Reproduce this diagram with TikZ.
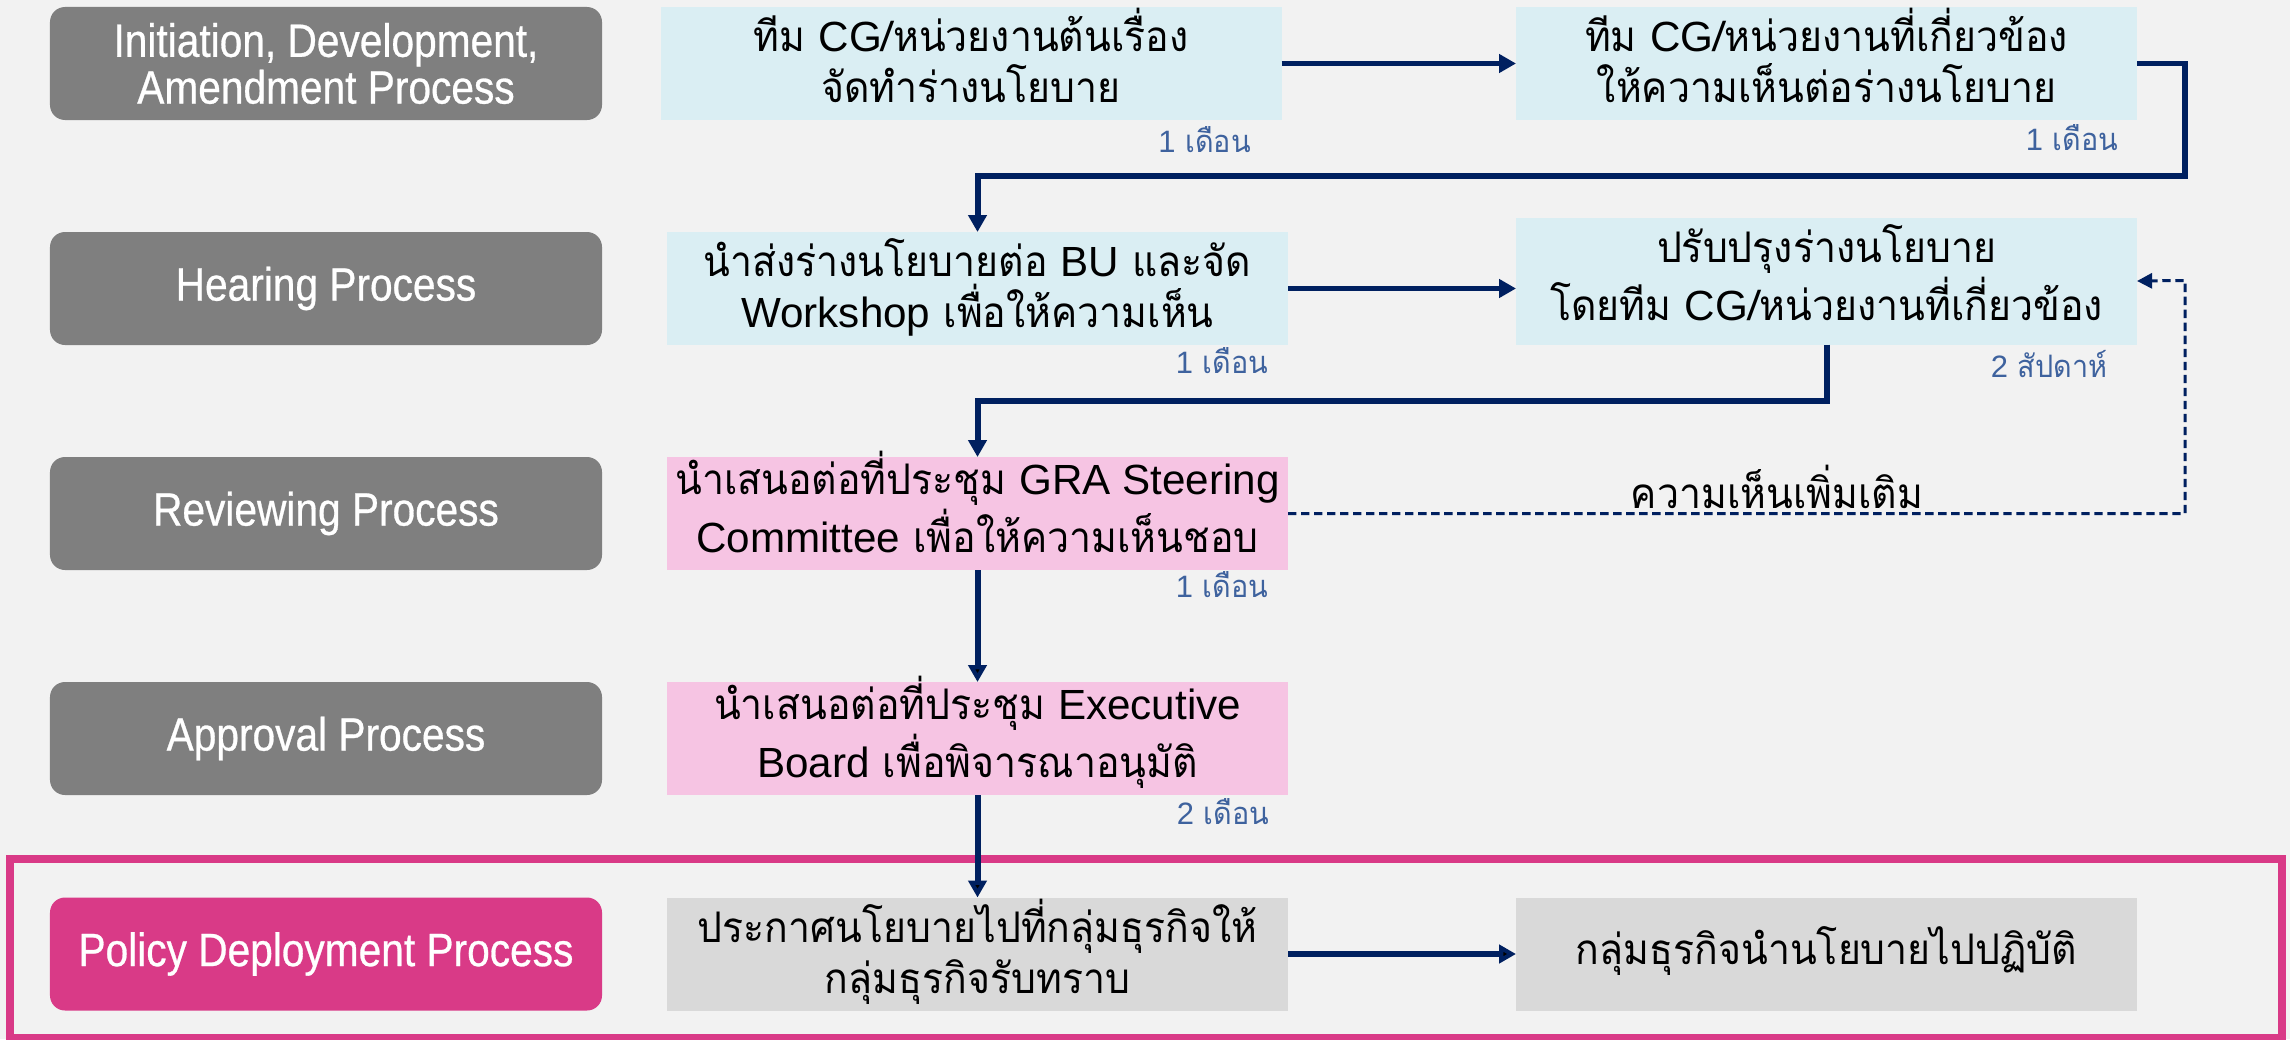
\documentclass[tikz,border=0pt]{standalone}
\usepackage{fontspec}
\setmainfont{Liberation Sans}[FakeStretch=0.87,FakeBold=0.6]
\newfontfamily\thaifont[Script=Thai,FakeStretch=0.93]{Loma}
\newfontfamily\latfont{Liberation Sans}
\newcommand\en[1]{{\latfont #1}}
\usetikzlibrary{arrows.meta}

\definecolor{bgcol}{HTML}{F2F2F2}
\definecolor{phasegray}{HTML}{7F7F7F}
\definecolor{stepblue}{HTML}{DAEEF3}
\definecolor{steppink}{HTML}{F6C4E3}
\definecolor{stepgray}{HTML}{D9D9D9}
\definecolor{deploy}{RGB}{217,58,135}
\definecolor{navy}{HTML}{002060}
\definecolor{durblue}{RGB}{62,98,158}

\begin{document}
\begin{tikzpicture}[>={Triangle[length=4.8pt,width=5.1pt]},
		phase node/.style={rectangle,rounded corners=0.15cm,fill=phasegray,text=white,minimum width=5.52cm,
			minimum height=1.13cm,align=center,inner sep=0pt,outer sep=0pt,font=\fontsize{13.3}{13.3}\selectfont},
		step node/.style={rectangle,fill=stepblue,minimum width=6.21cm,minimum height=1.13cm,align=center,
			inner sep=0pt,outer sep=0pt,text height=25pt,text depth=2.8pt,font=\thaifont\fontsize{12}{14.5}\selectfont},
		dur/.style={anchor=base east,text=durblue,inner sep=0pt,font=\thaifont\fontsize{8.8}{10}\selectfont},
		flow/.style={->,draw=navy,line width=1.7pt},
		feedback/.style={-{Triangle[length=4.3pt,width=4.3pt]},draw=navy,line width=0.85pt,dash pattern=on 2.4pt off 1.3pt}]

		\useasboundingbox[fill=bgcol] (0,0) rectangle (22.90,-10.39);
		\draw[deploy,line width=0.08cm] (0.10,-8.59) rectangle (22.82,-10.38);

		% process phases
		\node[phase node] (p1) at (3.26,-0.635) {Initiation, Development,\\Amendment Process};
		\node[phase node] (p2) [below of=p1, node distance=2.25cm] {Hearing Process};
		\node[phase node] (p3) [below of=p2, node distance=2.25cm] {Reviewing Process};
		\node[phase node] (p4) [below of=p3, node distance=2.25cm] {Approval Process};
		\node[phase node, fill=deploy] (p5) [below of=p4, node distance=2.155cm] {Policy Deployment Process};

		% steps
		\node[step node] (1) [right of=p1, node distance=6.515cm, xshift=-0.065cm] {ทีม \en{CG}/หน่วยงานต้นเรื่อง\\จัดทำร่างนโยบาย};
		\node[step node] (2) [right of=1, node distance=8.555cm] {ทีม \en{CG}/หน่วยงานที่เกี่ยวข้อง\\ให้ความเห็นต่อร่างนโยบาย};
		\node[step node] (3) [right of=p2, node distance=6.515cm] {นำส่งร่างนโยบายต่อ \en{BU} และจัด\\\en{Workshop} เพื่อให้ความเห็น};
		\node[step node, minimum height=1.27cm] (4) [right of=3, node distance=8.49cm, yshift=0.075cm] {ปรับปรุงร่างนโยบาย\\โดยทีม \en{CG}/หน่วยงานที่เกี่ยวข้อง};
		\node[step node, fill=steppink] (5) [right of=p3, node distance=6.515cm] {นำเสนอต่อที่ประชุม \en{GRA Steering}\\\en{Committee} เพื่อให้ความเห็นชอบ};
		\node[step node, fill=steppink] (6) [right of=p4, node distance=6.515cm] {นำเสนอต่อที่ประชุม \en{Executive}\\\en{Board} เพื่อพิจารณาอนุมัติ};
		\node[step node, fill=stepgray] (7) [right of=p5, node distance=6.515cm] {ประกาศนโยบายไปที่กลุ่มธุรกิจให้\\กลุ่มธุรกิจรับทราบ};
		\node[step node, fill=stepgray, text height=8pt, text depth=2pt] (8) [right of=7, node distance=8.49cm] {กลุ่มธุรกิจนำนโยบายไปปฏิบัติ};

		% durations
		\node[dur, xshift=-0.30cm, yshift=-0.32cm] (d1) at (1.south east) {\en{1} เดือน};
		\node[dur, xshift=-0.18cm, yshift=-0.30cm] (d2) at (2.south east) {\en{1} เดือน};
		\node[dur, xshift=-0.19cm, yshift=-0.28cm] (d3) at (3.south east) {\en{1} เดือน};
		\node[dur, xshift=-0.29cm, yshift=-0.33cm] (d4) at (4.south east) {\en{2} สัปดาห์};
		\node[dur, xshift=-0.19cm, yshift=-0.27cm] (d5) at (5.south east) {\en{1} เดือน};
		\node[dur, xshift=-0.18cm, yshift=-0.29cm] (d6) at (6.south east) {\en{2} เดือน};

		\coordinate (c1) at (21.85,-1.76);
		\coordinate (c2) at (13.00,-4.01);
		\coordinate (c3) at (21.85,-2.805);

		\draw[flow] (1) -- (1 -| 2.west);
		\draw[flow] (2.east) -| (c1) -| (3.north);
		\draw[flow] (3) -- (3 -| 4.west);
		\draw[flow] (4.south) |- (c2) -| (5.north);
		\draw[feedback] (5.east) -- node[pos=0.545, above, inner sep=1pt, font=\thaifont\fontsize{12}{14}\selectfont] (fb) {ความเห็นเพิ่มเติม} (5.east -| c3) -- (c3) -- (4.east);
		\path[flow] (5) edge (6)
		(6) edge (7)
		(7) edge (8);
\end{tikzpicture}
\end{document}
